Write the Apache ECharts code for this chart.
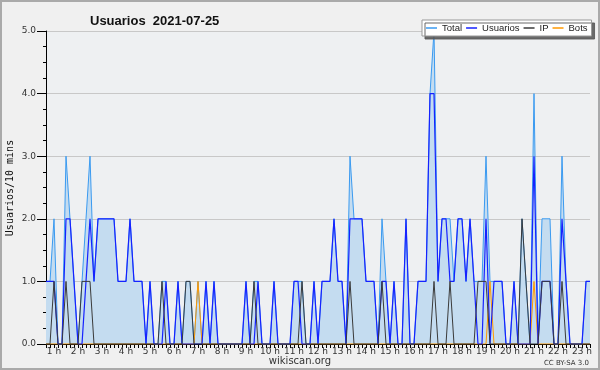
<!DOCTYPE html>
<html><head><meta charset="utf-8">
<script src="https://cdn.jsdelivr.net/npm/echarts@6/dist/echarts.min.js"></script>
<style>html,body{margin:0;padding:0;background:#f0f0f0}#c{width:600px;height:370px}</style>
</head><body><div id="c"></div>
<script>
// 10-minute samples, first sample at 0:40
const firstMinute = 40;
const sampleCount = 137;
const categories = [];
for (let i = 0; i < sampleCount; i++) {
  const m = firstMinute + 10 * i;
  categories.push(Math.floor(m / 60) + ':' + String(m % 60).padStart(2, '0'));
}
const yTicks = [0, 1, 2, 3, 4, 5];

const total = [
  1,1,2,0,0,3,2,1,0,1, 2,3,1,2,2,2,2,2,1,1, 1,2,1,1,1,0,1,0,0,1, 1,0,0,1,0,1,1,0,1,0,
  1,0,1,0,0,0,0,0,0,0, 1,0,1,1,0,0,0,1,0,0, 0,0,1,1,1,0,0,1,0,1, 1,1,2,1,1,0,3,2,2,2,
  1,1,1,0,2,1,0,1,0,0, 2,0,0,1,1,1,4,5,1,2, 2,2,1,2,2,1,2,1,1,1, 3,1,1,1,1,0,0,1,0,2,
  1,0,4,0,2,2,2,0,0,3, 1,0,0,0,0,1,1];
const usuarios = [
  1,1,1,0,0,2,2,1,0,0, 1,2,1,2,2,2,2,2,1,1, 1,2,1,1,1,0,1,0,0,0, 1,0,0,1,0,0,0,0,0,0,
  1,0,1,0,0,0,0,0,0,0, 1,0,0,1,0,0,0,1,0,0, 0,0,1,1,0,0,0,1,0,1, 1,1,2,1,1,0,2,2,2,2,
  1,1,1,0,1,1,0,1,0,0, 2,0,0,1,1,1,4,4,1,2, 2,1,1,2,2,1,2,1,0,0, 2,0,1,1,1,0,0,1,0,0,
  0,0,3,0,1,1,1,0,0,2, 1,0,0,0,0,1,1];
const ip = [
  0,0,1,0,0,1,0,0,0,1, 1,1,0,0,0,0,0,0,0,0, 0,0,0,0,0,0,0,0,0,1, 0,0,0,0,0,1,1,0,0,0,
  0,0,0,0,0,0,0,0,0,0, 0,0,1,0,0,0,0,0,0,0, 0,0,0,0,1,0,0,0,0,0, 0,0,0,0,0,0,1,0,0,0,
  0,0,0,0,1,0,0,0,0,0, 0,0,0,0,0,0,0,1,0,0, 0,1,0,0,0,0,0,0,1,1, 1,0,0,0,0,0,0,0,0,2,
  1,0,0,0,1,1,1,0,0,1, 0,0,0,0,0,0,0];
const bots = [
  0,0,0,0,0,0,0,0,0,0, 0,0,0,0,0,0,0,0,0,0, 0,0,0,0,0,0,0,0,0,0, 0,0,0,0,0,0,0,0,1,0,
  0,0,0,0,0,0,0,0,0,0, 0,0,0,0,0,0,0,0,0,0, 0,0,0,0,0,0,0,0,0,0, 0,0,0,0,0,0,0,0,0,0,
  0,0,0,0,0,0,0,0,0,0, 0,0,0,0,0,0,0,0,0,0, 0,0,0,0,0,0,0,0,0,0, 0,1,0,0,0,0,0,0,0,0,
  0,0,1,0,0,0,0,0,0,0, 0,0,0,0,0,0,0];

const chart = echarts.init(document.getElementById('c'), null, {renderer: 'canvas'});
const F = 'DejaVu Sans';
const L = 'Liberation Sans';
const mk = (name, data, color, width, extra) => Object.assign({
  name, type: 'line', data, symbol: 'none', showSymbol: false,
  lineStyle: {color, width}, itemStyle: {color}, emphasis: {disabled: true}
}, extra || {});

chart.setOption({
  animation: false,
  backgroundColor: '#f0f0f0',
  textStyle: {fontFamily: F},
  title: {
    text: 'Usuarios  2021-07-25', left: 85, top: 10,
    textStyle: {fontSize: 13, fontWeight: 'bold', color: '#111', fontFamily: L}
  },
  legend: {
    data: ['Total', 'Usuarios', 'IP', 'Bots'],
    left: 422, top: 20, icon: 'rect', itemWidth: 11, itemHeight: 1.5, itemGap: 4,
    padding: [3, 4, 3, 4],
    textStyle: {fontSize: 9.5, color: '#222', fontFamily: L},
    backgroundColor: '#ffffff', borderColor: '#999', borderWidth: 1,
    shadowColor: 'rgba(90,90,90,0.9)', shadowBlur: 0, shadowOffsetX: 3, shadowOffsetY: 3
  },
  grid: {left: 46, right: 10, top: 31, bottom: 26, show: true, backgroundColor: '#eef0f2', borderWidth: 0},
  xAxis: {
    type: 'category', data: categories, boundaryGap: false,
    axisLine: {lineStyle: {color: '#000', width: 1}},
    axisTick: {interval: 0, length: 4, lineStyle: {color: '#000'}},
    axisLabel: {
      interval: (idx, val) => val.endsWith(':00'),
      formatter: v => v.split(':')[0] + ' h',
      fontSize: 9, color: '#333', margin: 3, fontFamily: F
    },
    splitLine: {show: false}
  },
  yAxis: {
    type: 'value', min: yTicks[0], max: yTicks[yTicks.length - 1], interval: 1,
    axisLine: {show: true, lineStyle: {color: '#000', width: 1}},
    axisTick: {show: true, length: 9, lineStyle: {color: '#000'}},
    minorTick: {show: true, splitNumber: 4, length: 3, lineStyle: {color: '#000'}},
    axisLabel: {formatter: v => v.toFixed(1), fontSize: 9, color: '#333', margin: 10, fontFamily: F},
    splitLine: {show: true, lineStyle: {color: '#c8c8c8', width: 1}}
  },
  series: [
    mk('Total', total, '#3a9af0', 1, {areaStyle: {color: '#c4dcf0', opacity: 1}, z: 1}),
    mk('Bots', bots, '#ff9900', 1, {z: 2}),
    mk('Usuarios', usuarios, '#1522ff', 1.2, {z: 3}),
    mk('IP', ip, '#3a3a3a', 1, {z: 4})
  ],
  graphic: [
    {type: 'text', x: 10, y: 188, rotation: Math.PI / 2,
     style: {text: 'Usuarios/10 mins', fontFamily: 'DejaVu Sans Mono', fontSize: 10, fill: '#111', align: 'center', verticalAlign: 'middle'}},
    {type: 'text', x: 300, y: 361,
     style: {text: 'wikiscan.org', fontFamily: F, fontSize: 10, fill: '#333', align: 'center', verticalAlign: 'middle'}},
    {type: 'text', x: 589, y: 363,
     style: {text: 'CC BY-SA 3.0', fontFamily: F, fontSize: 7, fill: '#333', align: 'right', verticalAlign: 'middle'}},
    {type: 'rect', shape: {x: 1, y: 1, width: 598, height: 368}, silent: true,
     style: {fill: 'none', stroke: '#aaaaaa', lineWidth: 2}}
  ]
});
</script></body></html>
